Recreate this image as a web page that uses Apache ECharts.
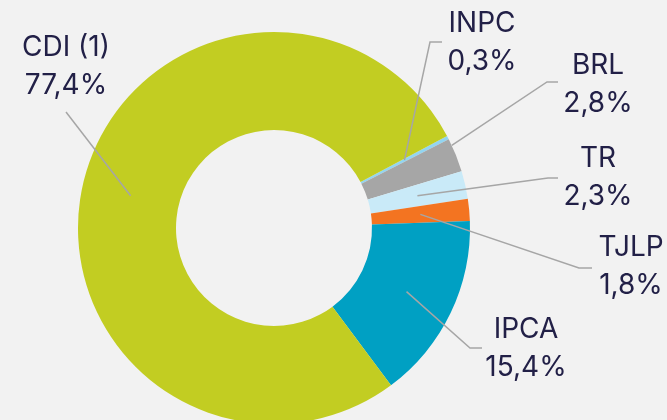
<!DOCTYPE html>
<html><head><meta charset="utf-8">
<script src="https://cdn.jsdelivr.net/npm/echarts@6/dist/echarts.min.js"></script>
<style>html,body{margin:0;padding:0;background:#f2f2f2;}#c{width:667px;height:420px;}</style>
</head><body><div id="c"></div>
<script>
const categories = ['INPC', 'BRL', 'TR', 'TJLP', 'IPCA', 'CDI (1)'];
const values = [0.3, 2.8, 2.3, 1.8, 15.4, 77.4];
const colors = ['#93d5f1', '#a6a6a6', '#c9eaf8', '#f37421', '#00a0c3', '#c2cd22'];

const CX = 274, CY = 228, R_IN = 98, R_OUT = 196, START = 28;
// label layout: centre of label, elbow points of line, radius where line starts
const labelCfg = [
  { x: 482, y: 43, elbow: [[430, 42], [442, 42]], r: 147 },
  { x: 598, y: 85, elbow: [[547, 82], [558, 82]], r: 196, ang: 24.9 },
  { x: 598, y: 178, elbow: [[548, 178], [558, 178]], r: 147 },
  { x: 631, y: 267, elbow: [[579, 268], [592, 268]], r: 147 },
  { x: 526, y: 349, elbow: [[470, 348], [482, 348]], r: 147 },
  { x: 66, y: 67, elbow: [[66, 112], [66, 112]], r: 147 }
];
const total = values.reduce((a, b) => a + b, 0);
function midAngle(i) {
  let acc = 0;
  for (let k = 0; k < i; k++) acc += values[k];
  return START - (acc + values[i] / 2) / total * 360;
}

const base = {
  type: 'pie',
  center: [CX, CY],
  radius: [R_IN, R_OUT],
  startAngle: START,
  clockwise: true,
  avoidLabelOverlap: false,
  silent: true
};

const chart = echarts.init(document.getElementById('c'), null, { renderer: 'canvas' });
chart.setOption({
  backgroundColor: '#f2f2f2',
  animation: false,
  series: [
    Object.assign({}, base, {
      z: 1,
      data: categories.map((n, i) => ({ name: n, value: values[i], itemStyle: { color: colors[i] } })),
      itemStyle: { borderWidth: 0 },
      label: { show: false },
      labelLine: { show: false }
    }),
    Object.assign({}, base, {
      z: 3,
      data: categories.map((n, i) => ({ name: n, value: values[i], itemStyle: { color: 'rgba(0,0,0,0)' } })),
      itemStyle: { borderWidth: 0 },
      label: {
        show: true,
        formatter: p => p.name + '\n' + p.value.toFixed(1).replace('.', ',') + '%',
        fontFamily: 'Inter',
        fontSize: 28,
        lineHeight: 38,
        color: '#222047',
        align: 'center'
      },
      labelLine: { show: true, lineStyle: { color: '#a6a6a6', width: 1.5 } },
      labelLayout: function (params) {
        const i = params.dataIndex;
        const c = labelCfg[i];
        const a = (c.ang !== undefined ? c.ang : midAngle(i)) * Math.PI / 180;
        const p0 = [CX + c.r * Math.cos(a), CY - c.r * Math.sin(a)];
        return {
          x: c.x, y: c.y, align: 'center', verticalAlign: 'middle',
          labelLinePoints: [p0, c.elbow[0], c.elbow[1]]
        };
      }
    })
  ]
});
</script>
</body></html>
